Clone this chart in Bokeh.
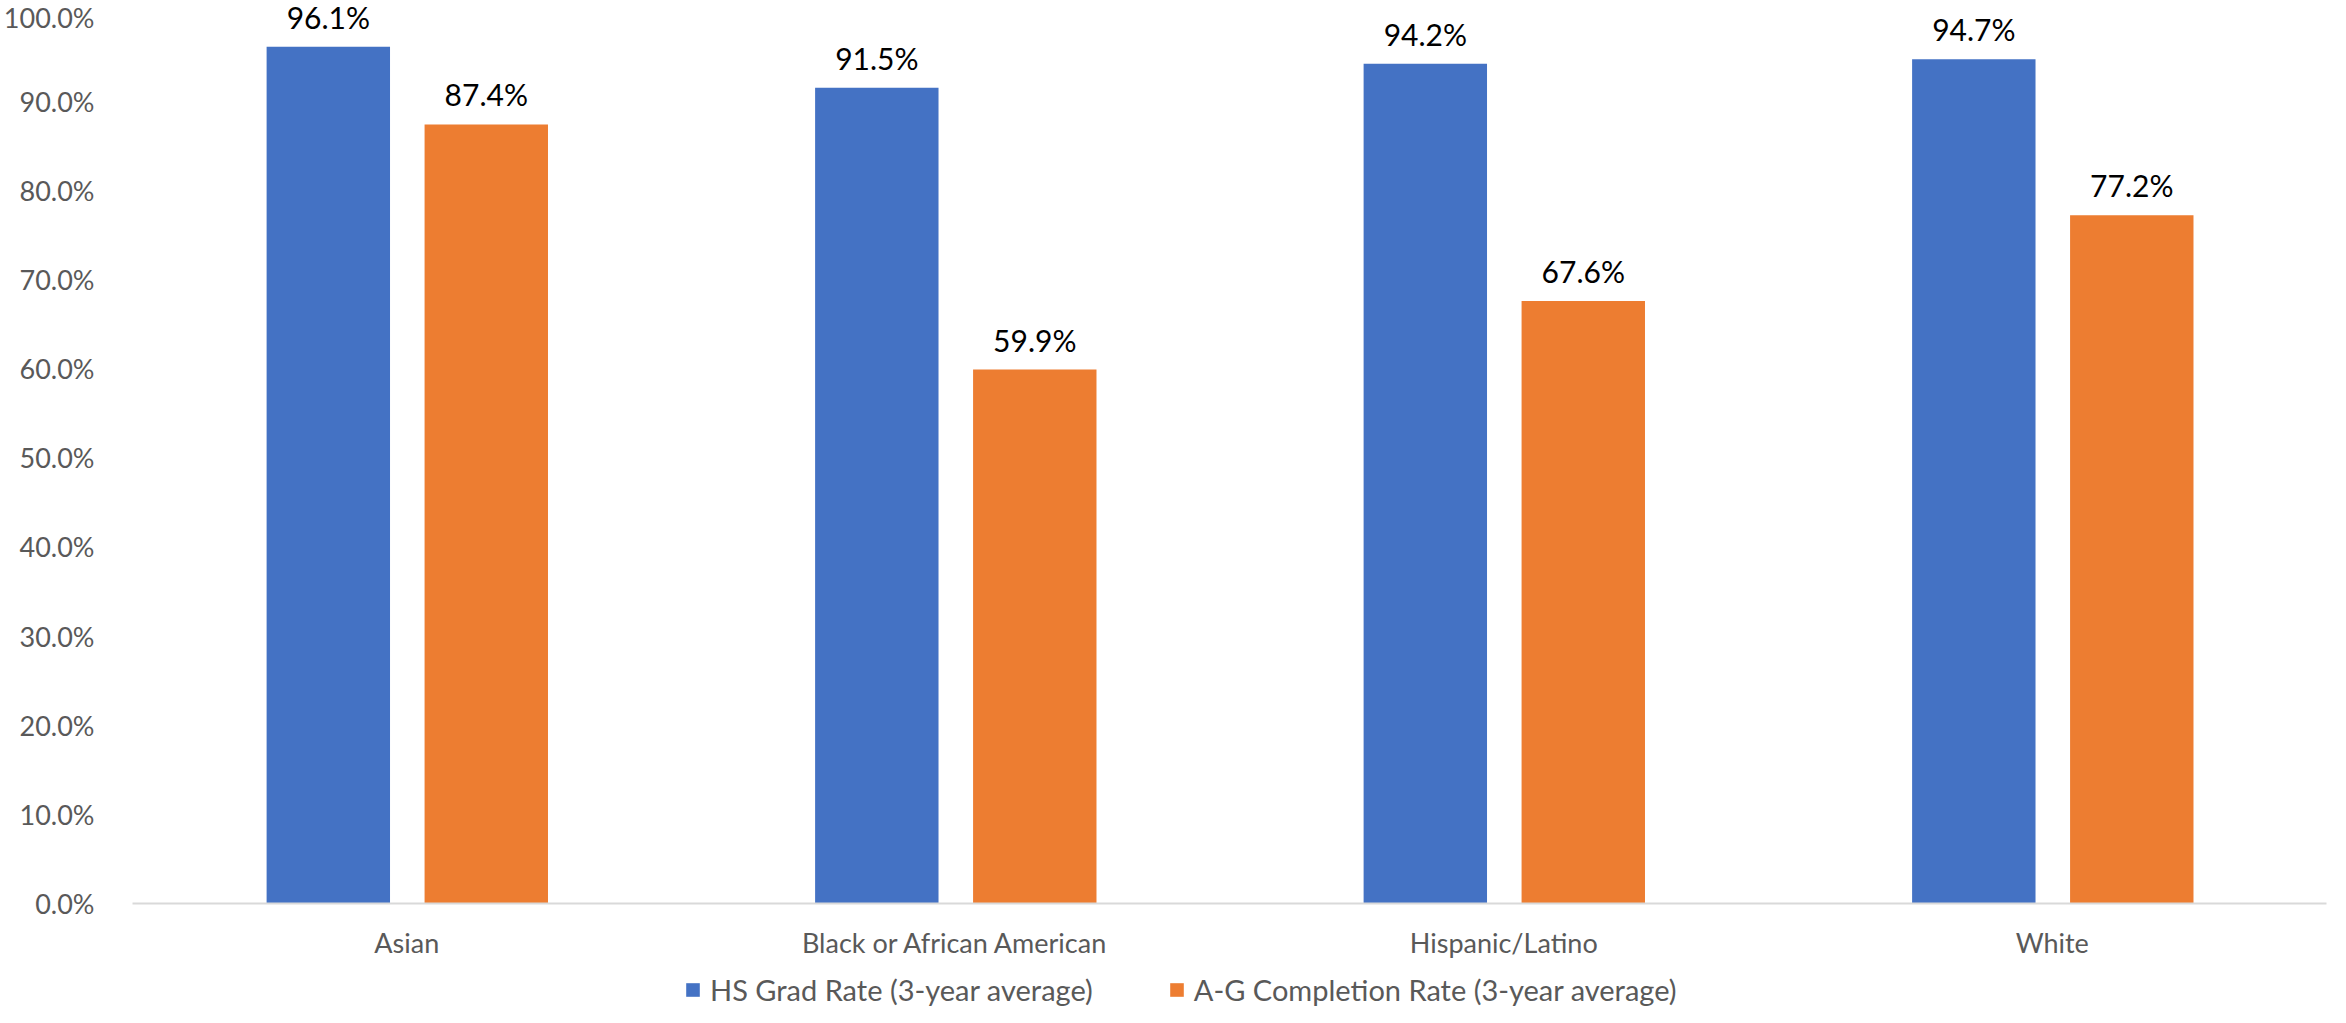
from bokeh.plotting import figure
from bokeh.models import ColumnDataSource, FactorRange, NumeralTickFormatter, Legend, LegendItem, Range1d, FixedTicker
from bokeh.layouts import column
from bokeh.transform import dodge
from bokeh.core.properties import value
from bokeh.embed import file_html
from bokeh.resources import INLINE

categories = ["Asian", "Black or African American", "Hispanic/Latino", "White"]
series_names = ["HS Grad Rate (3-year average)", "A-G Completion Rate (3-year average)"]
hs_grad = [96.1, 91.5, 94.2, 94.7]
ag_completion = [87.4, 59.9, 67.6, 77.2]
y_ticks = [0, 10, 20, 30, 40, 50, 60, 70, 80, 90, 100]

FONT = "Lato"
BLUE = "#4472C4"
ORANGE = "#ED7D31"
GREY = "#595959"

src = ColumnDataSource(dict(
    cat=categories,
    hs=[v / 100 for v in hs_grad],
    ag=[v / 100 for v in ag_completion],
    hs_lbl=["%.1f%%" % v for v in hs_grad],
    ag_lbl=["%.1f%%" % v for v in ag_completion],
))

p = figure(width=2330, height=968, x_range=FactorRange(*categories, range_padding=0),
           y_range=Range1d(0, 1.013), output_backend="svg", toolbar_location=None,
           min_border_left=126, min_border_right=4, min_border_top=0, min_border_bottom=65)
p.outline_line_color = None
p.xgrid.grid_line_color = None
p.ygrid.grid_line_color = None

bw = 0.225
p.vbar(x=dodge("cat", -0.143, range=p.x_range), top="hs", width=bw, source=src,
       fill_color=BLUE, line_color=None)
p.vbar(x=dodge("cat", 0.145, range=p.x_range), top="ag", width=bw, source=src,
       fill_color=ORANGE, line_color=None)

p.text(x=dodge("cat", -0.143, range=p.x_range), y="hs", text="hs_lbl", source=src,
       text_align="center", text_baseline="alphabetic", y_offset=-30,
       text_font=value(FONT), text_font_size="30px", text_color="#000000")
p.text(x=dodge("cat", 0.145, range=p.x_range), y="ag", text="ag_lbl", source=src,
       text_align="center", text_baseline="alphabetic", y_offset=-30,
       text_font=value(FONT), text_font_size="30px", text_color="#000000")

p.yaxis.ticker = FixedTicker(ticks=[t / 100 for t in y_ticks])
p.yaxis.formatter = NumeralTickFormatter(format="0.0%")
p.yaxis.axis_line_color = None
p.yaxis.major_tick_line_color = None
p.yaxis.minor_tick_line_color = None
p.yaxis.major_label_standoff = 32
p.yaxis.major_label_text_font = FONT
p.yaxis.major_label_text_font_size = "27px"
p.yaxis.major_label_text_color = GREY

p.xaxis.axis_line_color = "#D9D9D9"
p.xaxis.axis_line_width = 2
p.xaxis.major_tick_line_color = None
p.xaxis.minor_tick_line_color = None
p.xaxis.major_label_standoff = 16
p.xaxis.major_label_text_font = FONT
p.xaxis.major_label_text_font_size = "27px"
p.xaxis.major_label_text_color = GREY

# legend strip below the chart
lg = figure(width=2330, height=39, x_range=Range1d(0, 1), y_range=Range1d(0, 1),
            output_backend="svg", toolbar_location=None,
            x_axis_location=None, y_axis_location=None,
            min_border_left=126, min_border_right=4, min_border_top=0, min_border_bottom=0)
lg.grid.visible = False
lg.outline_line_color = None
k1 = lg.vbar(x=[0.5], top=[0], width=0.0, fill_color=BLUE, line_color=None)
k2 = lg.vbar(x=[0.5], top=[0], width=0.0, fill_color=ORANGE, line_color=None)

legend = Legend(items=[LegendItem(label=series_names[0], renderers=[k1]),
                       LegendItem(label=series_names[1], renderers=[k2])],
                orientation="horizontal", location=(552, 0),
                label_text_font=FONT, label_text_font_size="29px", label_text_color=GREY,
                glyph_width=17, glyph_height=17, spacing=75, label_standoff=9,
                border_line_color=None, background_fill_alpha=0, padding=0, margin=0)
lg.add_layout(legend, "center")

layout = column(p, lg, spacing=0)
open("out.html", "w").write(file_html(layout, INLINE))
